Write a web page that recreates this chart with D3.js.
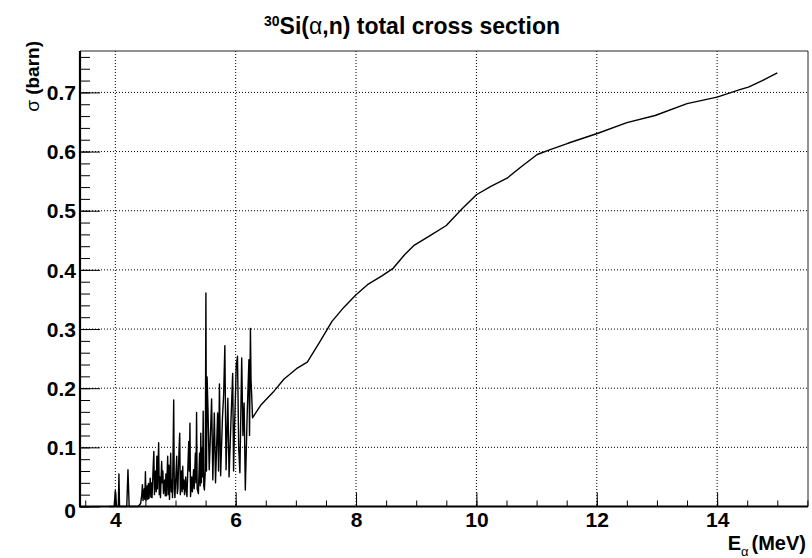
<!DOCTYPE html>
<html>
<head>
<meta charset="utf-8">
<script src="https://cdn.jsdelivr.net/npm/d3@7"></script>
<style>
  body { margin: 0; background: #fff; }
  text { font-family: "Liberation Sans", Arial, Helvetica, sans-serif; }
</style>
</head>
<body>
<div id="chart"></div>
<script>
// resonance region
const resEnergy = [3.90, 3.98, 4.00, 4.02, 4.05, 4.06, 4.07, 4.19, 4.21, 4.23, 4.38,
  4.42, 4.44, 4.45, 4.46, 4.48, 4.49, 4.50, 4.51, 4.53, 4.54, 4.55, 4.56, 4.58, 4.59, 4.60,
  4.61, 4.63, 4.64, 4.65, 4.67, 4.68, 4.69, 4.70, 4.72, 4.73, 4.74, 4.75, 4.77, 4.78, 4.79,
  4.80, 4.82, 4.83, 4.84, 4.85, 4.87, 4.88, 4.89, 4.90, 4.92, 4.93, 4.94, 4.95, 4.97, 4.98,
  4.99, 5.01, 5.02, 5.03, 5.04, 5.06, 5.07, 5.08, 5.10, 5.11, 5.12, 5.13, 5.14, 5.15, 5.17,
  5.18, 5.19, 5.21, 5.22, 5.23, 5.24, 5.25, 5.27, 5.28, 5.30, 5.31, 5.33, 5.34, 5.35, 5.36,
  5.38, 5.40, 5.41, 5.42, 5.43, 5.44, 5.45, 5.46, 5.47, 5.48, 5.495,
  5.505, 5.515, 5.525, 5.54, 5.56, 5.58, 5.60, 5.62, 5.645, 5.665, 5.70, 5.715,
  5.73, 5.75, 5.78, 5.80, 5.82, 5.84, 5.87, 5.89, 5.92, 5.95, 5.965, 5.98, 6.01, 6.03,
  6.05, 6.07, 6.10, 6.12, 6.14, 6.16, 6.19, 6.22, 6.23, 6.245, 6.255, 6.265];
const resSigma = [0, 0, 0.027, 0, 0, 0.055, 0, 0, 0.062, 0, 0,
  0.005, 0.020, 0.037, 0.010, 0.030, 0.012, 0.059, 0.010, 0.035, 0.012, 0.039, 0.014, 0.048, 0.016, 0.040,
  0.015, 0.070, 0.093, 0.020, 0.060, 0.025, 0.085, 0.030, 0.108, 0.020, 0.050, 0.015, 0.076, 0.040, 0.060,
  0.022, 0.045, 0.018, 0.055, 0.018, 0.085, 0.020, 0.070, 0.012, 0.090, 0.025, 0.045, 0.015, 0.180, 0.030,
  0.015, 0.060, 0.085, 0.022, 0.030, 0.100, 0.124, 0.020, 0.060, 0.025, 0.068, 0.030, 0.045, 0.020, 0.050,
  0.025, 0.017, 0.080, 0.110, 0.060, 0.141, 0.017, 0.050, 0.025, 0.062, 0.030, 0.090, 0.040, 0.159, 0.030,
  0.022, 0.090, 0.035, 0.124, 0.040, 0.100, 0.050, 0.161, 0.035, 0.028, 0.060,
  0.361, 0.060, 0.219, 0.163, 0.062, 0.120, 0.182, 0.045, 0.158, 0.040, 0.158, 0.060,
  0.207, 0.052, 0.150, 0.189, 0.272, 0.062, 0.183, 0.050, 0.140, 0.225, 0.060, 0.130, 0.239, 0.254,
  0.100, 0.057, 0.251, 0.120, 0.175, 0.028, 0.152, 0.248, 0.120, 0.301, 0.214, 0.190];

// smooth part above the resonances
const contEnergy = [6.28, 6.415, 6.62, 6.80, 7.01, 7.19, 7.39, 7.60, 7.80, 8.00, 8.19, 8.43,
  8.61, 8.81, 8.97, 9.23, 9.50, 9.75, 10.00, 10.24, 10.51, 10.74, 11.01, 11.25, 11.52,
  12.02, 12.50, 12.97, 13.50, 14.00, 14.39, 14.52, 14.75, 15.00];
const contSigma = [0.150, 0.171, 0.193, 0.215, 0.233, 0.244, 0.277, 0.313, 0.337, 0.358, 0.375, 0.390,
  0.402, 0.426, 0.442, 0.458, 0.475, 0.502, 0.527, 0.541, 0.555, 0.574, 0.595, 0.604, 0.614,
  0.631, 0.649, 0.661, 0.681, 0.692, 0.705, 0.709, 0.720, 0.733];

const xTicks = [4, 6, 8, 10, 12, 14];
const yTicks = [0, 0.1, 0.2, 0.3, 0.4, 0.5, 0.6, 0.7];
const xMinor = d3.range(3.5, 15.51, 0.5);
const yMinor = d3.range(0, 0.7601, 0.02);

const W = 812, H = 558;
const frameL = 80, frameR = 808, frameT = 51, frameB = 506.5;

const svg = d3.select("#chart")
    .append("svg")
    .attr("width", W)
    .attr("height", H);

const x = d3.scaleLinear().domain([3.413, 15.51]).range([frameL, frameR]);
const y = d3.scaleLinear().domain([0, 0.77]).range([frameB, frameT]);

//grid
svg.append("g")
    .selectAll("line")
    .data(xTicks)
    .enter()
    .append("line")
    .attr("x1", d => x(d)).attr("x2", d => x(d))
    .attr("y1", frameT).attr("y2", frameB)
    .attr("stroke", "#000")
    .attr("stroke-dasharray", "1,2");

svg.append("g")
    .selectAll("line")
    .data(yTicks.filter(d => d > 0))
    .enter()
    .append("line")
    .attr("x1", frameL).attr("x2", frameR)
    .attr("y1", d => y(d)).attr("y2", d => y(d))
    .attr("stroke", "#000")
    .attr("stroke-dasharray", "1,2");

//frame (top and right)
svg.append("path")
    .attr("d", `M${frameL},${frameT}H${frameR}V${frameB}`)
    .attr("fill", "none")
    .attr("stroke", "#222")
    .attr("stroke-width", 1);

//cross section curve
const data = resEnergy.map((e, i) => ({ e: e, s: resSigma[i] }))
    .concat(contEnergy.map((e, i) => ({ e: e, s: contSigma[i] })));

const line = d3.line()
    .x(d => x(d.e))
    .y(d => y(d.s));

svg.append("path")
    .datum(data)
    .attr("fill", "none")
    .attr("stroke", "#000")
    .attr("stroke-width", 1.4)
    .attr("stroke-linejoin", "round")
    .attr("d", line);

//minor ticks
svg.append("g")
    .attr("transform", `translate(0,${frameB})`)
    .call(d3.axisBottom(x).tickValues(xMinor).tickSize(-6).tickSizeOuter(0).tickFormat(""))
    .call(g => g.select(".domain").remove());

svg.append("g")
    .attr("transform", `translate(${frameL},0)`)
    .call(d3.axisLeft(y).tickValues(yMinor).tickSize(-10).tickSizeOuter(0).tickFormat(""))
    .call(g => g.select(".domain").remove());

//X Axis
const xAxis = svg.append("g")
    .attr("transform", `translate(0,${frameB})`)
    .call(d3.axisBottom(x).tickValues(xTicks).tickSize(-14).tickSizeOuter(0).tickPadding(6).tickFormat(d3.format("d")));
xAxis.select(".domain").attr("stroke-width", 2.2).attr("d", `M${frameL},0H${frameR}`);
xAxis.selectAll("text")
    .style("font-size", "21px")
    .style("font-weight", "bold")
    .attr("fill", "#000");

//Y Axis
const yAxis = svg.append("g")
    .attr("transform", `translate(${frameL},0)`)
    .call(d3.axisLeft(y).tickValues(yTicks).tickSize(-20).tickSizeOuter(0).tickPadding(4)
        .tickFormat(d => d === 0 ? "0" : d3.format(".1f")(d)));
yAxis.select(".domain").attr("stroke-width", 2.2).attr("d", `M0,${frameB + 1}V${frameT}`);
yAxis.selectAll("text")
    .style("font-size", "21px")
    .style("font-weight", "bold")
    .attr("fill", "#000")
    .attr("dy", d => d === 0 ? "0.5em" : "0.34em");

svg.selectAll(".tick line").attr("stroke", "#000");

//title
const title = svg.append("text")
    .attr("x", 412)
    .attr("y", 34)
    .attr("text-anchor", "middle")
    .style("font-size", "23px")
    .style("font-weight", "bold");
title.append("tspan").attr("dy", "-8").style("font-size", "14px").text("30");
title.append("tspan").attr("dy", "8").text("Si(");
title.append("tspan").style("font-weight", "normal").text("α");
title.append("tspan").text(",n) total cross section");

//axis titles
const xt = svg.append("text")
    .attr("x", 806)
    .attr("y", 550)
    .attr("text-anchor", "end")
    .style("font-size", "20px")
    .style("font-weight", "bold");
xt.append("tspan").text("E");
xt.append("tspan").attr("dy", 6).style("font-size", "13px").style("font-weight", "normal").text("α");
xt.append("tspan").attr("dy", -6).attr("dx", 3).text("(MeV)");

const yt = svg.append("text")
    .attr("transform", "translate(39,41) rotate(-90)")
    .attr("text-anchor", "end")
    .style("font-size", "19px")
    .style("font-weight", "bold");
yt.append("tspan").style("font-weight", "normal").text("σ");
yt.append("tspan").text(" (barn)");
</script>
</body>
</html>
